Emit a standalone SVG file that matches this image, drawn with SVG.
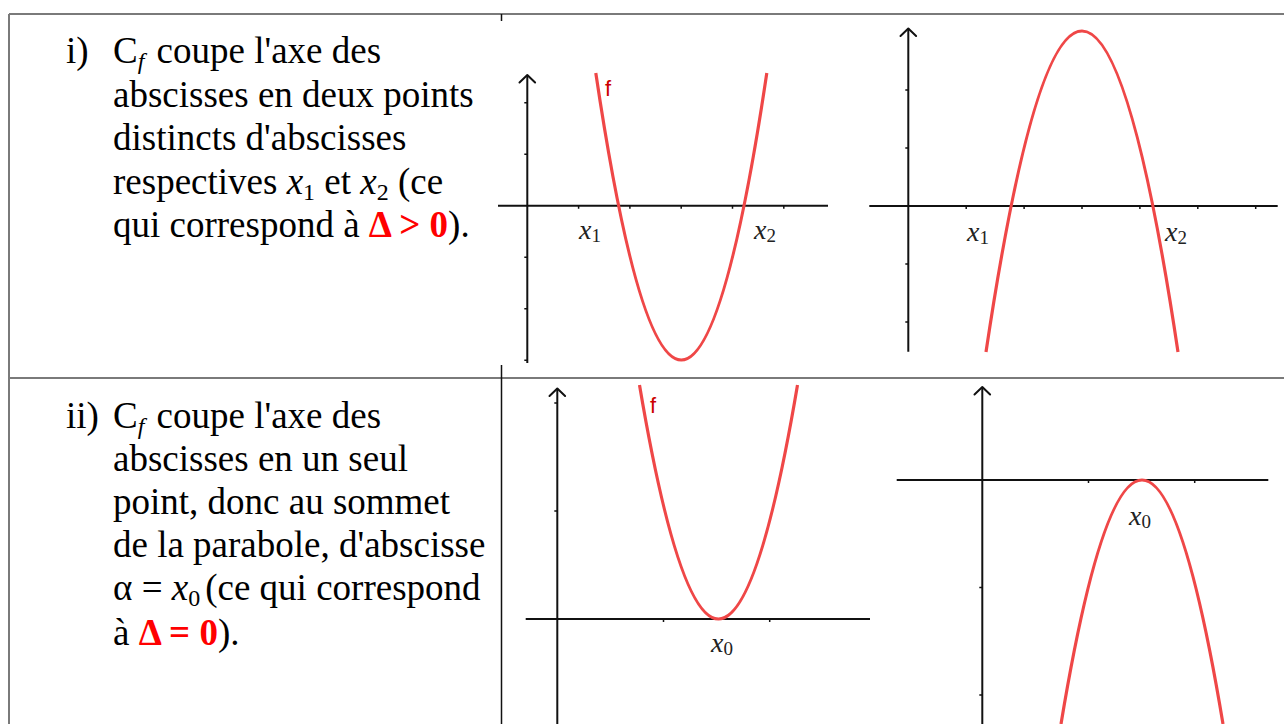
<svg xmlns="http://www.w3.org/2000/svg" width="1284" height="724" viewBox="0 0 1284 724">
<style>
.t{font-family:"Liberation Serif","Times New Roman",serif;font-size:37px;fill:#000}
.it{font-style:italic}
.red{fill:#ff0000;font-weight:bold}
.border{stroke:#7a7a7a;stroke-width:2;fill:none}
.div{stroke:#111;stroke-width:1.5;fill:none}
.axis{stroke:#111;stroke-width:2;fill:none}
.tick{stroke:#111;stroke-width:1.5;fill:none}
.arrow{stroke:#111;stroke-width:2;fill:none;stroke-linecap:round;stroke-linejoin:round}
.curve{stroke:#ef4747;stroke-width:3.2;fill:none}
.lab{font-family:"Liberation Serif","Times New Roman",serif;font-style:italic;font-size:28px;fill:#222}
.labsub{font-style:normal;font-size:19px}
.f{font-family:"Liberation Sans",Arial,sans-serif;font-size:22px;fill:#cc0000}
</style>
<g id="table">
<line class="border" x1="9" y1="14" x2="1284" y2="14"/>
<line class="border" x1="9" y1="14" x2="9" y2="724"/>
<line class="border" x1="9" y1="378" x2="1284" y2="378"/>
<line class="div" x1="501.5" y1="14" x2="501.5" y2="21"/>
<line class="div" x1="501.5" y1="365" x2="501.5" y2="724"/>
</g>
<g id="text-i">
<text class="t" x="66" y="63">i)</text>
<text class="t" x="113" y="63">C<tspan class="it" font-size="24" dy="6">f</tspan><tspan dy="-6" dx="3"> coupe l'axe des</tspan></text>
<text class="t" x="113" y="106.5">abscisses en deux points</text>
<text class="t" x="113" y="150">distincts d'abscisses</text>
<text class="t" x="113" y="193.5">respectives <tspan class="it">x</tspan><tspan font-size="24" dy="6">1</tspan><tspan dy="-6"> et </tspan><tspan class="it">x</tspan><tspan font-size="24" dy="6">2</tspan><tspan dy="-6"> (ce</tspan></text>
<text class="t" x="113" y="237">qui correspond à <tspan class="red">Δ &gt; 0</tspan>).</text>
</g>
<g id="text-ii">
<text class="t" x="66" y="428">ii)</text>
<text class="t" x="113" y="428">C<tspan class="it" font-size="24" dy="6">f</tspan><tspan dy="-6" dx="3"> coupe l'axe des</tspan></text>
<text class="t" x="113" y="471">abscisses en un seul</text>
<text class="t" x="113" y="514">point, donc au sommet</text>
<text class="t" x="113" y="557">de la parabole, d'abscisse</text>
<text class="t" x="113" y="600">α = <tspan class="it">x</tspan><tspan font-size="24" dy="6">0</tspan><tspan dy="-6" dx="5">(ce qui correspond</tspan></text>
<text class="t" x="113" y="645">à <tspan class="red">Δ = 0</tspan>).</text>
</g>
<g id="graph1">
<line class="axis" x1="498" y1="205.7" x2="828" y2="205.7"/>
<line class="axis" x1="527.3" y1="75" x2="527.3" y2="363"/>
<polyline class="arrow" points="519.5,82.5 527.3,75 535.1,82.5"/>
<path class="tick" d="M578.6 205.7v3M629.9 205.7v3M681.2 205.7v3M732.5 205.7v3M783.8 205.7v3M527.3 102.7h-3M527.3 154.2h-3M527.3 257.2h-3M527.3 308.7h-3M527.3 360.2h-3"/>
<path class="curve" d="M595.8 73 Q681.3 647 766.8 73"/>
<text class="f" x="605" y="96">f</text>
<text class="lab" x="579" y="239">x<tspan class="labsub" dy="3">1</tspan></text>
<text class="lab" x="754" y="239">x<tspan class="labsub" dy="3">2</tspan></text>
</g>
<g id="graph2">
<line class="axis" x1="869.3" y1="206" x2="1277.7" y2="206"/>
<line class="axis" x1="908.3" y1="28.5" x2="908.3" y2="351.7"/>
<polyline class="arrow" points="900.5,36 908.3,28.5 916.1,36"/>
<path class="tick" d="M966.2 206v3M1024.1 206v3M1082 206v3M1139.9 206v3M1197.8 206v3M1255.7 206v3M908.3 90h-3M908.3 148h-3M908.3 264h-3M908.3 322h-3"/>
<path class="curve" d="M986 352 Q1082 -290 1178 352"/>
<text class="lab" x="967" y="241">x<tspan class="labsub" dy="3">1</tspan></text>
<text class="lab" x="1165" y="241">x<tspan class="labsub" dy="3">2</tspan></text>
</g>
<g id="graph3">
<line class="axis" x1="525.7" y1="619" x2="870" y2="619"/>
<line class="axis" x1="557.3" y1="388.5" x2="557.3" y2="724"/>
<polyline class="arrow" points="549.5,396 557.3,388.5 565.1,396"/>
<path class="tick" d="M663.5 619v3M769.7 619v3M557.3 403h-3M557.3 511h-3"/>
<path class="curve" d="M639.5 385 Q718.5 853 797.5 385"/>
<text class="f" x="650" y="413">f</text>
<text class="lab" x="711" y="652" font-size="30">x<tspan class="labsub" font-size="20" dy="3">0</tspan></text>
</g>
<g id="graph4">
<line class="axis" x1="896.7" y1="480" x2="1268.3" y2="480"/>
<line class="axis" x1="982.3" y1="387" x2="982.3" y2="724"/>
<polyline class="arrow" points="974.5,394.5 982.3,387 990.1,394.5"/>
<path class="tick" d="M1088.5 480v3M1194.7 480v3M982.3 587.5h-3M982.3 695h-3"/>
<path class="curve" d="M1061 724 Q1142 236 1223 724"/>
<text class="lab" x="1129" y="525" font-size="30">x<tspan class="labsub" font-size="20" dy="3">0</tspan></text>
</g>
</svg>
